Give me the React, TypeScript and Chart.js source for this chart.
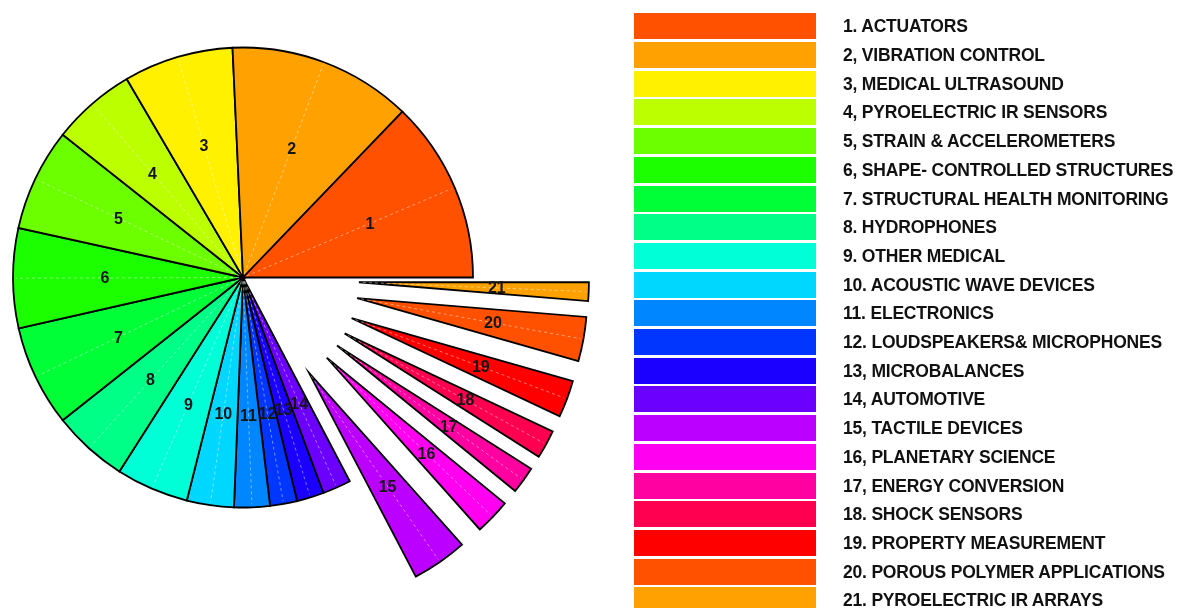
import React, { useEffect, useRef } from "react";
import { Chart, registerables } from "chart.js";

Chart.register(...registerables);

// ---------------- data ----------------
const sliceIds = [
  "1", "2", "3", "4", "5", "6", "7", "8", "9", "10", "11",
  "12", "13", "14", "15", "16", "17", "18", "19", "20", "21",
];

const shares = [
  12.8, 12.9, 7.7, 5.9, 7.2, 7.0, 7.1, 5.3, 5.1, 3.3, 2.5,
  1.9, 1.9, 2.0, 3.9, 2.5, 1.9, 2.0, 2.6, 3.1, 1.3,
];

const legendLabels = [
  "1. ACTUATORS",
  "2, VIBRATION CONTROL",
  "3, MEDICAL ULTRASOUND",
  "4, PYROELECTRIC IR SENSORS",
  "5, STRAIN & ACCELEROMETERS",
  "6, SHAPE- CONTROLLED STRUCTURES",
  "7. STRUCTURAL HEALTH MONITORING",
  "8. HYDROPHONES",
  "9. OTHER MEDICAL",
  "10. ACOUSTIC WAVE DEVICES",
  "11. ELECTRONICS",
  "12. LOUDSPEAKERS& MICROPHONES",
  "13, MICROBALANCES",
  "14, AUTOMOTIVE",
  "15, TACTILE DEVICES",
  "16, PLANETARY SCIENCE",
  "17, ENERGY CONVERSION",
  "18. SHOCK SENSORS",
  "19. PROPERTY MEASUREMENT",
  "20. POROUS POLYMER APPLICATIONS",
  "21. PYROELECTRIC IR ARRAYS",
];

const sliceColors = [
  "#FF5100", "#FFA100", "#FFF100", "#BCFF00", "#6BFF00", "#1BFF00", "#00FF36",
  "#00FF86", "#00FFD7", "#00D7FF", "#0086FF", "#0036FF", "#1B00FF", "#6B00FF",
  "#BC00FF", "#FF00F1", "#FF00A1", "#FF0051", "#FF0000", "#FF5100", "#FFA100",
];

// slices pulled out of the pie
const explodedIds = ["15", "16", "17", "18", "19", "20", "21"];

// ---------------- layout / style constants ----------------
const PAGE_W = 1186;
const PAGE_H = 608;
const PIE_RADIUS = 230;
const EXPLODE_PX = 116;
const LABEL_FRAC = 0.6;
const LEGEND_BOX_X = 634;
const LEGEND_BOX_W = 182;
const LEGEND_BOX_H = 26;
const LEGEND_TOP = 13.3;
const LEGEND_PITCH = 28.7;
const LEGEND_TEXT_X = 843;
const LEGEND_TEXT_SHIFT = 3;

const explodePlugin = {
  id: "explodeSlices",
  beforeDatasetsDraw(chart: any) {
    const meta = chart.getDatasetMeta(0);
    const area = chart.chartArea;
    const cx = (area.left + area.right) / 2;
    const cy = (area.top + area.bottom) / 2;
    meta.data.forEach((el: any, j: number) => {
      const id = chart.data.labels[j];
      const mid = (el.startAngle + el.endAngle) / 2;
      const d = explodedIds.includes(id) ? EXPLODE_PX : 0;
      el.x = cx + Math.cos(mid) * d;
      el.y = cy + Math.sin(mid) * d;
    });
  },
  afterDatasetsDraw(chart: any) {
    const ctx = chart.ctx;
    const meta = chart.getDatasetMeta(0);
    ctx.save();
    // faint dashed bisector lines
    ctx.strokeStyle = "rgba(255,255,255,0.45)";
    ctx.lineWidth = 1;
    ctx.setLineDash([3, 3]);
    meta.data.forEach((el: any) => {
      const mid = (el.startAngle + el.endAngle) / 2;
      ctx.beginPath();
      ctx.moveTo(el.x + Math.cos(mid) * 4, el.y + Math.sin(mid) * 4);
      ctx.lineTo(el.x + Math.cos(mid) * (el.outerRadius - 3), el.y + Math.sin(mid) * (el.outerRadius - 3));
      ctx.stroke();
    });
    ctx.setLineDash([]);
    // slice numbers
    ctx.font = "bold 16px 'Liberation Sans', Arial, sans-serif";
    ctx.fillStyle = "#151515";
    ctx.textAlign = "center";
    ctx.textBaseline = "middle";
    meta.data.forEach((el: any, j: number) => {
      const mid = (el.startAngle + el.endAngle) / 2;
      const r = el.outerRadius * LABEL_FRAC;
      ctx.fillText(String(chart.data.labels[j]), el.x + Math.cos(mid) * r, el.y + Math.sin(mid) * r + 1);
    });
    ctx.restore();
  },
};

export default function App() {
  const canvasRef = useRef<HTMLCanvasElement | null>(null);

  useEffect(() => {
    const canvas = canvasRef.current;
    if (!canvas) return;
    // draw counter-clockwise from east: reverse order, clockwise from east
    const order = sliceIds.map((_, i) => sliceIds.length - 1 - i);
    const chart = new Chart(canvas, {
      type: "pie",
      data: {
        labels: order.map((i) => sliceIds[i]),
        datasets: [
          {
            data: order.map((i) => shares[i]),
            backgroundColor: order.map((i) => sliceColors[i]),
            borderColor: "#000000",
            borderWidth: 1.8,
            borderJoinStyle: "miter",
            radius: PIE_RADIUS,
          } as any,
        ],
      },
      options: {
        responsive: false,
        animation: false,
        events: [],
        rotation: 90,
        radius: PIE_RADIUS,
        layout: {
          padding: { left: 0, top: 0, right: PAGE_W - 486, bottom: PAGE_H - 555 },
        },
        plugins: {
          legend: { display: false },
          tooltip: { enabled: false },
        },
      } as any,
      plugins: [explodePlugin],
    });
    return () => chart.destroy();
  }, []);

  return (
    <div
      style={{
        position: "fixed",
        left: 0,
        top: 0,
        width: PAGE_W,
        height: PAGE_H,
        background: "#ffffff",
        overflow: "hidden",
      }}
    >
      <canvas
        ref={canvasRef}
        width={PAGE_W}
        height={PAGE_H}
        style={{ position: "absolute", left: 0, top: 0, width: PAGE_W, height: PAGE_H }}
      />
      {legendLabels.map((txt, i) => (
        <React.Fragment key={i}>
          <div
            style={{
              position: "absolute",
              left: LEGEND_BOX_X,
              top: LEGEND_TOP + i * LEGEND_PITCH,
              width: LEGEND_BOX_W,
              height: LEGEND_BOX_H,
              background: sliceColors[i],
            }}
          />
          <div
            style={{
              position: "absolute",
              left: LEGEND_TEXT_X,
              top: LEGEND_TOP + i * LEGEND_PITCH + LEGEND_TEXT_SHIFT,
              height: LEGEND_BOX_H,
              lineHeight: LEGEND_BOX_H + "px",
              font: "bold 17.5px 'Liberation Sans', Arial, sans-serif",
              letterSpacing: "-0.2px",
              color: "#111111",
              whiteSpace: "nowrap",
            }}
          >
            {txt}
          </div>
        </React.Fragment>
      ))}
    </div>
  );
}
